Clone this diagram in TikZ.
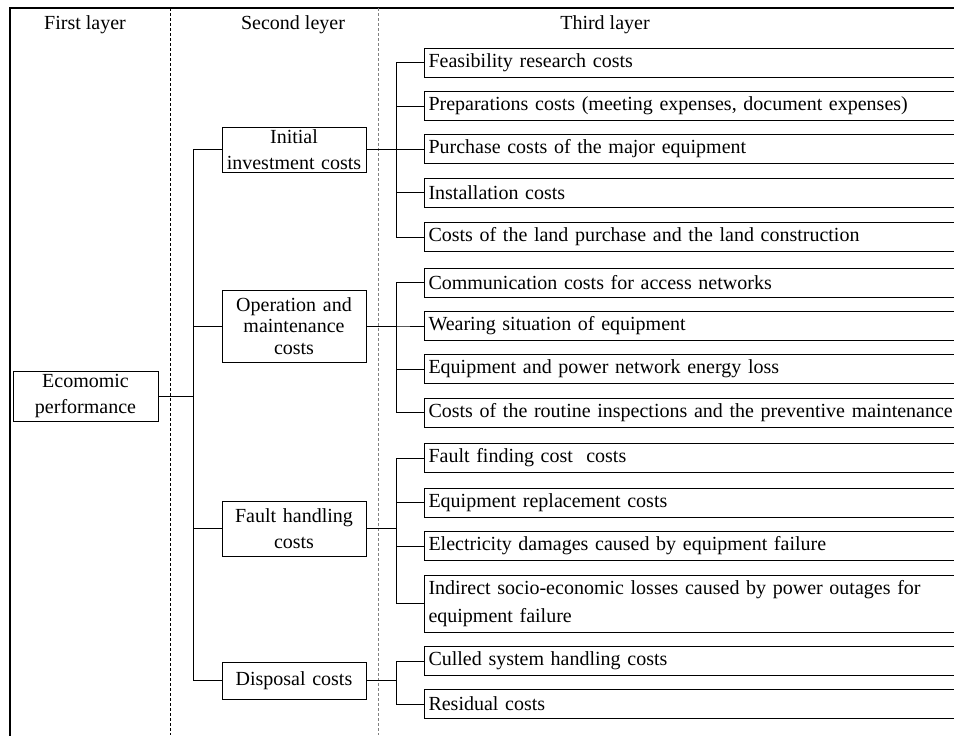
\documentclass[tikz,border=0pt]{standalone}
\usepackage{fontspec}
\setmainfont{Liberation Serif}
\usetikzlibrary{positioning}

\tikzset{
  box/.style={draw, line width=0.5pt, inner sep=0pt, align=center, text width=72pt},
  leaf/.style={draw, line width=0.5pt, anchor=west, inner xsep=2pt, inner ysep=0pt,
    text width=300pt, minimum height=14.5pt, align=left},
  link/.style={line width=0.5pt},
  sep/.style={line width=0.4pt, dash pattern=on 1.5pt off 1pt}
}

\begin{document}
\begin{tikzpicture}[x=0.5pt, y=-0.5pt, every node/.style={font=\fontsize{10}{13}\selectfont}]
    \useasboundingbox (0,0) rectangle (954,735);
    \clip (0,0) rectangle (954,735);

    % frame and layer separators
    \draw[line width=1pt] (10,740) -- (10,8) -- (960,8);
    \draw[sep] (170,8) -- (170,735);
    \draw[sep, gray] (378,8) -- (378,735);

    \node (first)  at (85,25)  {First layer};
    \node (second) at (293,25) {Second leyer};
    \node (third)  at (605,25) {Third layer};

    % first and second layer
    \node[box, text width=72.5pt, minimum height=25pt] (econ) at (85.5,396) {Ecomomic\\performance};
    \node[box, minimum height=22.5pt] (init)  at (294,149.5) {Initial\\investment costs};
    \node[box, minimum height=36pt, font=\fontsize{10}{10.6}\selectfont] (opex) at (294,326) {Operation and\\maintenance\\costs};
    \node[box, minimum height=27.5pt] (fault) at (294,528.5) {Fault handling\\costs};
    \node[box, minimum height=18.5pt] (disp)  at (294,680.5) {Disposal costs};

    % third layer
    \node[leaf] (feas)  at (424,62.5)  {Feasibility research costs};
    \node[leaf] (prep)  at (424,106)   {Preparations costs (meeting expenses, document expenses)};
    \node[leaf] (purch) at (424,149)   {Purchase costs of the major equipment};
    \node[leaf] (inst)  at (424,192.5) {Installation costs};
    \node[leaf] (land)  at (424,237)   {Costs of the land purchase and the land construction};

    \node[leaf] (comm)  at (424,282.5) {Communication costs for access networks};
    \node[leaf] (wear)  at (424,326)   {Wearing situation of equipment};
    \node[leaf] (loss)  at (424,369)   {Equipment and power network energy loss};
    \node[leaf] (insp)  at (424,412.5) {Costs of the routine inspections and the preventive maintenance};

    \node[leaf] (find)  at (424,458)   {Fault finding cost\ \ costs};
    \node[leaf] (repl)  at (424,502.5) {Equipment replacement costs};
    \node[leaf] (damg)  at (424,546)   {Electricity damages caused by equipment failure};
    \node[leaf, minimum height=28.5pt, font=\fontsize{10}{13.8}\selectfont] (outg) at (424,603.5)
      {Indirect socio-economic losses caused by power outages for\\equipment failure};

    \node[leaf] (cull)  at (424,661)   {Culled system handling costs};
    \node[leaf] (resid) at (424,704)   {Residual costs};

    % Connections
    \draw[link] (econ.east) -- ++(35,0) |- (init.west);
    \draw[link] (econ.east) -- ++(35,0) |- (opex.west);
    \draw[link] (econ.east) -- ++(35,0) |- (fault.west);
    \draw[link] (econ.east) -- ++(35,0) |- (disp.west);

    \draw[link] (init.east) -- ++(30,0) |- (feas.west);
    \draw[link] (init.east) -- ++(30,0) |- (prep.west);
    \draw[link] (init.east) -- ++(30,0) |- (purch.west);
    \draw[link] (init.east) -- ++(30,0) |- (inst.west);
    \draw[link] (init.east) -- ++(30,0) |- (land.west);

    \draw[link] (opex.east) -- ++(30,0) |- (comm.west);
    \draw[link] (opex.east) -- ++(30,0) |- (wear.west);
    \draw[link] (opex.east) -- ++(30,0) |- (loss.west);
    \draw[link] (opex.east) -- ++(30,0) |- (insp.west);

    \draw[link] (fault.east) -- ++(30,0) |- (find.west);
    \draw[link] (fault.east) -- ++(30,0) |- (repl.west);
    \draw[link] (fault.east) -- ++(30,0) |- (damg.west);
    \draw[link] (fault.east) -- ++(30,0) |- (outg.west);

    \draw[link] (disp.east) -- ++(30,0) |- (cull.west);
    \draw[link] (disp.east) -- ++(30,0) |- (resid.west);
\end{tikzpicture}
\end{document}
